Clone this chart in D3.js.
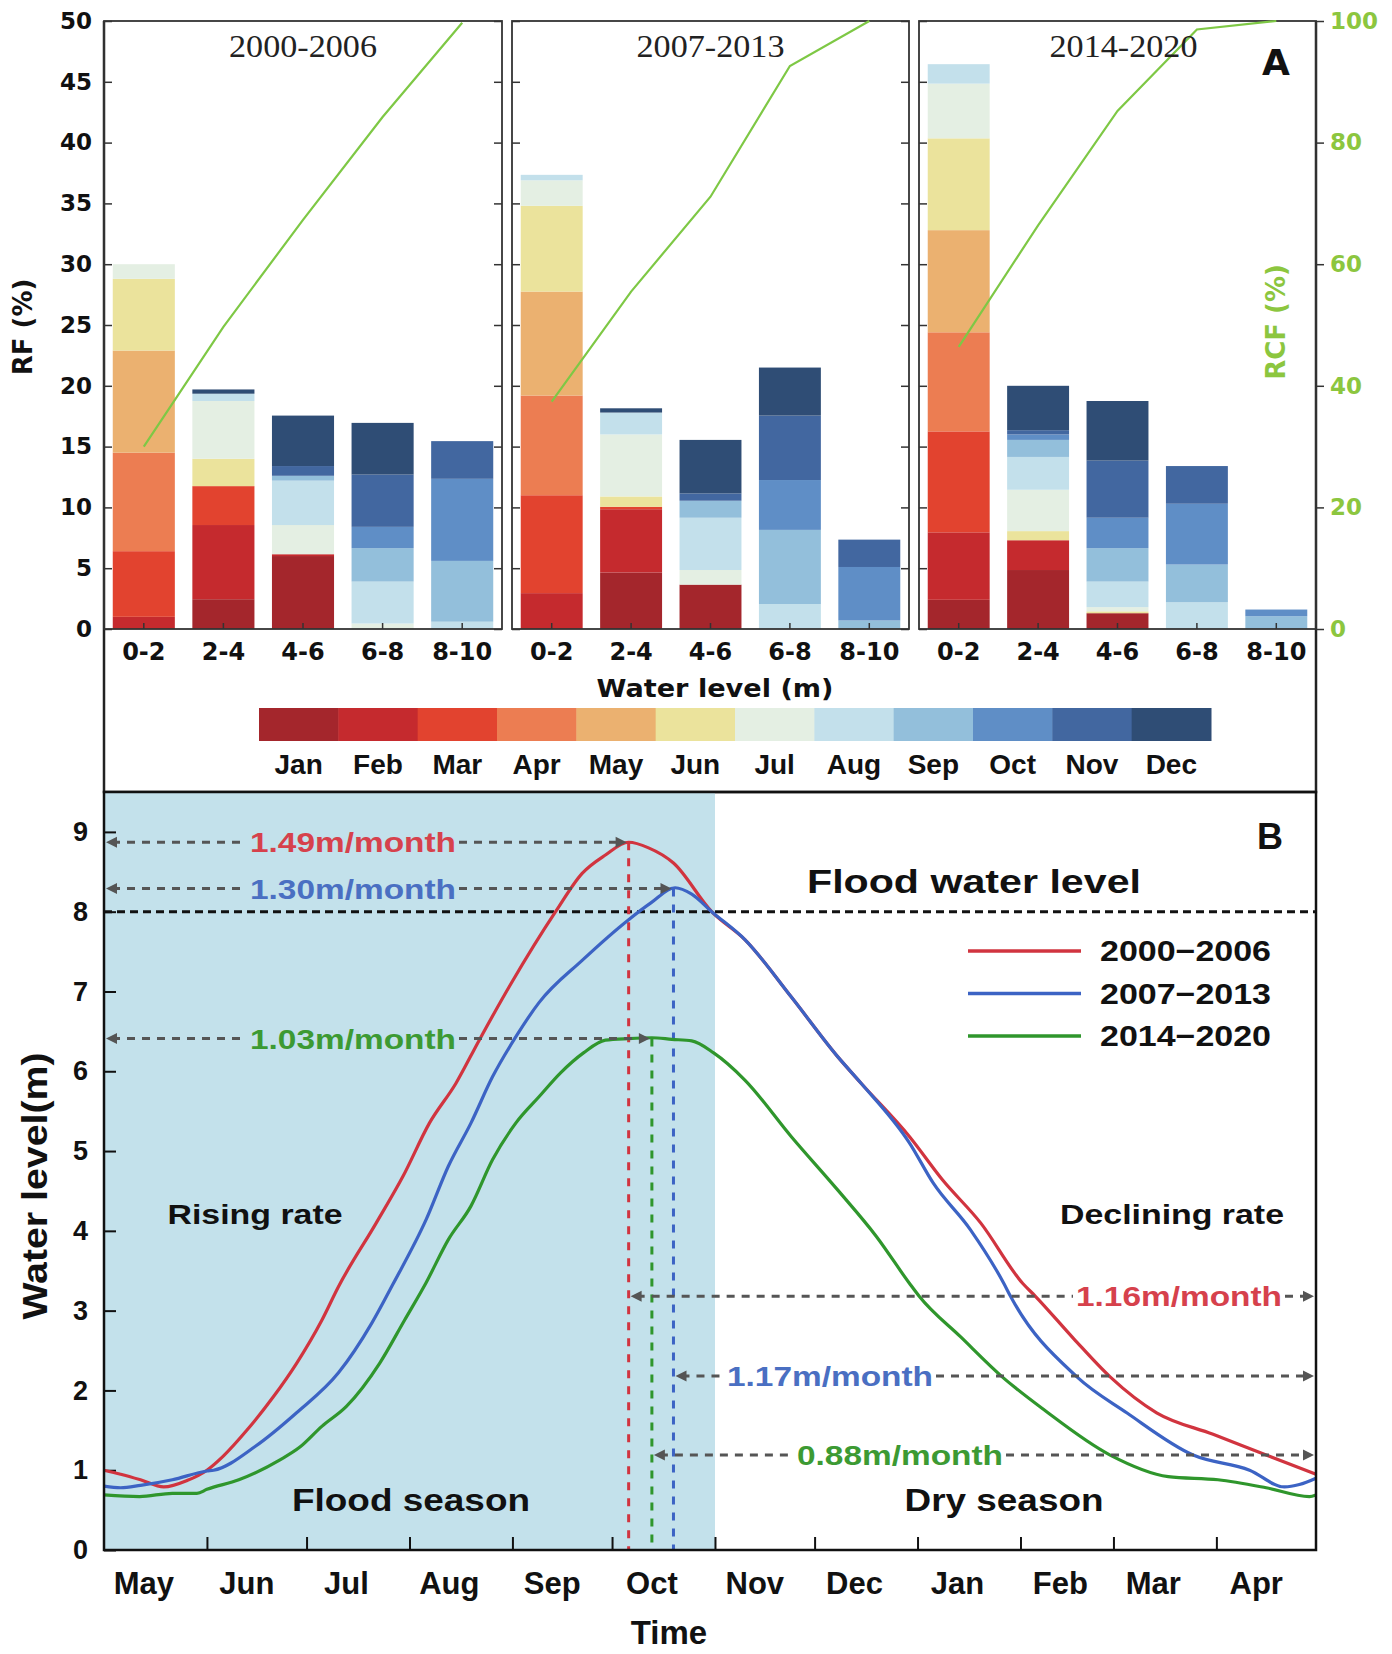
<!DOCTYPE html>
<html><head><meta charset="utf-8">
<script src="https://cdn.jsdelivr.net/npm/d3@7"></script>
<style>
body{margin:0;background:#fff;}
text{font-weight:bold;}
.dv{font-family:"DejaVu Sans",sans-serif;}
.ls{font-family:"Liberation Sans",Arial,sans-serif;}
.nar{font-family:"Liberation Sans Narrow","Liberation Sans",Arial,sans-serif;}
.serif{font-family:"Liberation Serif","Times New Roman",serif;font-weight:normal;}
</style>
</head><body>
<svg id="c" width="1392" height="1654" xmlns="http://www.w3.org/2000/svg"></svg>
<script>
// ---------------- DATA ----------------
const months = ["Jan","Feb","Mar","Apr","May","Jun","Jul","Aug","Sep","Oct","Nov","Dec"];
const monthColors = ["#a4262c","#c52a2e","#e2432f","#ec7d52","#ebb170","#ebe39c","#e4efe3","#c3e0eb","#93bfdb","#5f8ec6","#4267a0","#2f4d75"];
const bins = ["0-2","2-4","4-6","6-8","8-10"];
const periods = ["2000-2006","2007-2013","2014-2020"];
// RF (%) per water-level bin, stacked by month Jan..Dec
const rf2000 = [
  [0,1.0,5.4,8.1,8.4,5.9,1.2,0,0,0,0,0],
  [2.45,6.1,3.2,0,0,2.25,4.75,0.6,0,0,0,0.35],
  [6.0,0.15,0,0,0,0,2.4,3.65,0.4,0,0.8,4.15],
  [0,0,0,0,0,0,0.45,3.45,2.75,1.75,4.3,4.25],
  [0,0,0,0,0,0,0,0.6,5.0,6.75,3.1,0]
];
const rf2007 = [
  [0,2.95,8.05,8.2,8.55,7.05,2.1,0.45,0,0,0,0],
  [4.65,5.2,0.2,0,0,0.85,5.1,1.8,0,0,0,0.35],
  [3.65,0,0,0,0,0,1.2,4.3,1.4,0,0.6,4.4],
  [0,0,0,0,0,0,0,2.05,6.1,4.1,5.3,3.95],
  [0,0,0,0,0,0,0,0,0.7,4.4,2.25,0]
];
const rf2014 = [
  [2.4,5.55,8.3,8.15,8.4,7.55,4.5,1.6,0,0,0,0],
  [4.85,2.45,0,0,0,0.75,3.4,2.7,1.4,0.45,0.35,3.65],
  [1.3,0,0,0,0,0.15,0.35,2.1,2.75,2.5,4.7,4.9],
  [0,0,0,0,0,0,0,2.2,3.1,5.0,3.1,0],
  [0,0,0,0,0,0,0,0,1.05,0.55,0,0]
];
const rcf2000 = [30.0,49.7,67.3,84.2,99.7];
const rcf2007 = [37.4,55.5,71.1,92.6,100];
const rcf2014 = [46.4,66.4,85.2,98.6,100];
const rfTicks = [0,5,10,15,20,25,30,35,40,45,50];
const rcfTicks = [0,20,40,60,80,100];

// Panel B
const timeMonths = ["May","Jun","Jul","Aug","Sep","Oct","Nov","Dec","Jan","Feb","Mar","Apr"];
const monthDays = [31,30,31,31,30,31,30,31,31,28,31,30];
const levelTicks = [0,1,2,3,4,5,6,7,8,9];
const seriesNames = ["2000\u22122006","2007\u22122013","2014\u22122020"];
const seriesColors = ["#d1343f","#3c63c4","#2f962c"];
const rateColors = ["#d6414c","#4a6fc2","#3c9a33"];
// [day since May 1, water level (m)]
const wl2000 = [[0,1.00],[5,0.95],[11,0.88],[18,0.79],[25,0.87],[31,1.0],[36,1.18],[43,1.50],[51,1.92],[58,2.34],[65.6,2.88],[70.6,3.30],[82,4.10],[90,4.68],[98,5.35],[106,5.85],[113,6.39],[122.6,7.10],[136,8.0],[144,8.48],[151,8.71],[158,8.87],[164,8.80],[171.5,8.61],[183,8.0],[193,7.65],[207,6.93],[221,6.18],[228,5.85],[242.6,5.18],[252.5,4.64],[264,4.10],[276.7,3.34],[280.5,3.18],[292,2.65],[303,2.17],[317,1.72],[334,1.45],[350,1.19],[365,0.95]];
const wl2007 = [[0,0.80],[5,0.78],[11,0.81],[20.6,0.88],[31,0.99],[33,1.0],[45.6,1.30],[58,1.72],[70.6,2.22],[80.6,2.84],[87,3.33],[97,4.14],[103.7,4.81],[110.5,5.35],[117,5.93],[124,6.43],[131,6.86],[144,7.39],[158,7.90],[164.7,8.11],[172,8.30],[177,8.22],[183,8.0],[193,7.65],[207,6.93],[221,6.18],[228,5.85],[242.6,5.10],[249.7,4.60],[261,4.01],[271,3.34],[273,3.18],[293,2.17],[308,1.72],[328,1.19],[345,1.0],[355.5,0.79],[360,0.82],[365,0.90]];
const wl2014 = [[0,0.69],[10.7,0.67],[20.6,0.71],[28,0.71],[31,0.76],[40.6,0.88],[53,1.13],[59,1.29],[65.6,1.55],[73,1.80],[83,2.34],[90.5,2.88],[97,3.35],[103.7,3.89],[110.5,4.31],[117,4.89],[124,5.35],[131,5.68],[137.5,5.98],[144.4,6.23],[151,6.39],[158,6.41],[165,6.42],[171,6.40],[177,6.38],[183.6,6.23],[193,5.89],[207,5.18],[221,4.51],[232.6,3.93],[242.6,3.34],[245.5,3.18],[258,2.67],[270.5,2.17],[283,1.76],[303,1.19],[320.5,0.92],[335.5,0.88],[350,0.78],[363,0.67],[365,0.69]];
const peakDay = [158,171.5,165];
const peakLevel = [8.87,8.29,6.41];
const riseRates = ["1.49m/month","1.30m/month","1.03m/month"];
const declineRates = ["1.16m/month","1.17m/month","0.88m/month"];
const declineLevel = [3.18,2.18,1.19];
const floodLevel = 8;
const floodSeasonEndDay = 184;

// ---------------- DRAW ----------------
const svg = d3.select("#c");
svg.append("rect").attr("width",1392).attr("height",1654).attr("fill","#fff");

// ===== Panel A =====
const yA = d3.scaleLinear().domain([0,50]).range([629,21]);
const yR = d3.scaleLinear().domain([0,100]).range([629,21]);
const panelX = [[104,502],[512,909],[919,1316]];
const rfAll = [rf2000,rf2007,rf2014];
const rcfAll = [rcf2000,rcf2007,rcf2014];

svg.append("path").attr("d","M104,21 V792 H1316 V21").attr("fill","none").attr("stroke","#222").attr("stroke-width",2.5);

periods.forEach((p,i)=>{
  const [x0,x1] = panelX[i];
  const x = d3.scaleBand().domain(bins).range([x0,x1]).paddingInner(0.22).paddingOuter(0.11);
  const rows = bins.map((b,j)=>{const o={bin:b}; months.forEach((m,k)=>o[m]=rfAll[i][j][k]); return o;});
  const stacked = d3.stack().keys(months)(rows);
  const g = svg.append("g");
  stacked.forEach((layer,k)=>{
    g.selectAll(null).data(layer.filter(d=>d[1]-d[0]>0)).enter().append("rect")
      .attr("x",d=>x(d.data.bin)).attr("width",x.bandwidth())
      .attr("y",d=>yA(d[1])).attr("height",d=>yA(d[0])-yA(d[1]))
      .attr("fill",monthColors[k]);
  });
  const la = g.append("g").attr("transform",`translate(${x0},0)`)
    .call(d3.axisLeft(yA).tickValues(rfTicks).tickSize(-8).tickPadding(12).tickFormat(i===0?d3.format("d"):()=>""));
  la.select(".domain").remove();
  la.selectAll("line").attr("stroke","#333").attr("stroke-width",1.5);
  la.selectAll("text").attr("class","dv").attr("font-size",23).attr("fill","#111");
  if(i<2){
    const ra = g.append("g").attr("transform",`translate(${x1},0)`)
      .call(d3.axisRight(yA).tickValues(rfTicks).tickSize(-8).tickFormat(()=>""));
    ra.select(".domain").remove();
    ra.selectAll("line").attr("stroke","#333").attr("stroke-width",1.5);
  } else {
    const ra = g.append("g").attr("transform",`translate(${x1},0)`)
      .call(d3.axisRight(yR).tickValues(rcfTicks).tickSize(8).tickPadding(6).tickFormat(d3.format("d")));
    ra.select(".domain").remove();
    ra.selectAll("line").attr("stroke","#333").attr("stroke-width",1.5);
    ra.selectAll("text").attr("class","dv").attr("font-size",23).attr("fill","#8cc63f");
  }
  const ba = g.append("g").attr("transform",`translate(0,629)`)
    .call(d3.axisBottom(x).tickSize(-6).tickPadding(14));
  ba.select(".domain").remove();
  ba.selectAll("line").attr("stroke","#333").attr("stroke-width",1.5);
  ba.selectAll("text").attr("class","dv").attr("font-size",24).attr("fill","#111");
  g.append("rect").attr("x",x0).attr("y",21).attr("width",x1-x0).attr("height",608)
    .attr("fill","none").attr("stroke","#333").attr("stroke-width",1.8);
  const line = d3.line().x((v,j)=>x(bins[j])+x.bandwidth()/2).y(v=>yR(v));
  g.append("path").attr("d",line(rcfAll[i])).attr("fill","none").attr("stroke","#7ec845").attr("stroke-width",2.2);
  g.append("text").attr("class","serif").attr("x",(x0+x1)/2+(i===2?6:0)).attr("y",57).attr("text-anchor","middle")
    .attr("font-size",31).attr("fill","#222").attr("textLength",148).attr("lengthAdjust","spacingAndGlyphs").text(p);
});
svg.append("text").attr("class","dv").attr("x",1276).attr("y",75).attr("text-anchor","middle").attr("font-size",36).attr("fill","#111").text("A");
svg.append("text").attr("class","dv").attr("transform","translate(32,327) rotate(-90)").attr("text-anchor","middle")
  .attr("font-size",26).attr("fill","#111").text("RF (%)");
svg.append("text").attr("class","dv").attr("transform","translate(1285,322) rotate(-90)").attr("text-anchor","middle")
  .attr("font-size",26).attr("fill","#8cc63f").text("RCF (%)");
svg.append("text").attr("class","dv").attr("x",715).attr("y",697).attr("text-anchor","middle").attr("font-size",24)
  .attr("fill","#111").attr("textLength",237).attr("lengthAdjust","spacingAndGlyphs").text("Water level (m)");

const xLeg = d3.scaleBand().domain(months).range([259,1211]);
svg.append("g").selectAll("rect").data(months).enter().append("rect")
  .attr("x",d=>xLeg(d)).attr("y",708).attr("width",xLeg.bandwidth()+0.5).attr("height",33)
  .attr("fill",(d,k)=>monthColors[k]);
svg.append("g").selectAll("text").data(months).enter().append("text").attr("class","nar")
  .attr("x",d=>xLeg(d)+xLeg.bandwidth()/2).attr("y",774).attr("text-anchor","middle")
  .attr("font-size",28).attr("fill","#111").text(d=>d);

// ===== Panel B =====
const xB = d3.scaleLinear().domain([0,365]).range([104,1316]);
const yB = d3.scaleLinear().domain([0,9.5]).range([1550,792]);
const gB = svg.append("g");
gB.append("rect").attr("x",xB(0)).attr("y",792).attr("width",xB(floodSeasonEndDay)-xB(0)).attr("height",758).attr("fill","#c3e1eb");

const cum = Array.from(d3.cumsum(monthDays));
const monthStarts = [0].concat(cum.slice(0,11));
const xa = gB.append("g").attr("transform","translate(0,1550)")
  .call(d3.axisBottom(xB).tickValues(monthStarts.slice(1)).tickSize(-13).tickFormat(()=>""));
xa.select(".domain").remove();
xa.selectAll("line").attr("stroke","#111").attr("stroke-width",2);
gB.append("g").selectAll("text").data(timeMonths).enter().append("text").attr("class","ls")
  .attr("x",(d,k)=>xB(monthStarts[k]+12)).attr("y",1594).attr("text-anchor","middle")
  .attr("font-size",31).attr("fill","#111").text(d=>d);
const ya = gB.append("g").attr("transform","translate(104,0)")
  .call(d3.axisLeft(yB).tickValues(levelTicks).tickSize(-12).tickPadding(16).tickFormat(d3.format("d")));
ya.select(".domain").remove();
ya.selectAll("line").attr("stroke","#111").attr("stroke-width",2);
ya.selectAll("text").attr("class","ls").attr("font-size",27).attr("fill","#111");

gB.append("line").attr("x1",xB(0)).attr("x2",xB(365)).attr("y1",yB(floodLevel)).attr("y2",yB(floodLevel))
  .attr("stroke","#111").attr("stroke-width",3).attr("stroke-dasharray","8,5");

[0,1,2].forEach(s=>{
  gB.append("line").attr("x1",xB(peakDay[s])).attr("x2",xB(peakDay[s])).attr("y1",yB(peakLevel[s])).attr("y2",yB(0))
    .attr("stroke",seriesColors[s]).attr("stroke-width",3).attr("stroke-dasharray","8,8");
});

const lineB = d3.line().x(d=>xB(d[0])).y(d=>yB(d[1])).curve(d3.curveMonotoneX);
[wl2000,wl2007,wl2014].forEach((data,s)=>{
  gB.append("path").attr("d",lineB(data)).attr("fill","none").attr("stroke",seriesColors[s]).attr("stroke-width",3.2);
});

function arrowHead(x,y,dir){
  gB.append("path").attr("d",`M${x},${y} L${x-dir*11},${y-5.5} L${x-dir*11},${y+5.5} Z`).attr("fill","#555");
}
function rateArrow(xa1,xa2,y,label,color,cx){
  const t = gB.append("text").attr("class","ls").attr("x",cx).attr("y",y+10).attr("text-anchor","middle")
    .attr("font-size",28).attr("fill",color).attr("textLength",206).attr("lengthAdjust","spacingAndGlyphs").text(label);
  const w = 206;
  const l = cx - w/2 - 3, r = cx + w/2 + 3;
  [[xa1+8,l],[r,xa2-8]].forEach(([a,b])=>{ if(b>a) gB.append("line").attr("x1",a).attr("x2",b).attr("y1",y).attr("y2",y)
    .attr("stroke","#555").attr("stroke-width",3).attr("stroke-dasharray","8,7"); });
  arrowHead(xa1+2,y,-1);
  arrowHead(xa2-2,y,1);
  t.raise();
}
const riseCx = [353,353,353];
const declCx = [1179,830,900];
[0,1,2].forEach(s=>{
  rateArrow(xB(0), xB(peakDay[s]), yB(peakLevel[s]), riseRates[s], rateColors[s], riseCx[s]);
  rateArrow(xB(peakDay[s]), xB(365), yB(declineLevel[s]), declineRates[s], rateColors[s], declCx[s]);
});

gB.append("rect").attr("x",104).attr("y",792).attr("width",1212).attr("height",758).attr("fill","none").attr("stroke","#111").attr("stroke-width",2.5);

const ann = [["Flood water level",974,893,33,334],["Rising rate",255,1224,28,175],["Declining rate",1172,1224,28,224],
             ["Flood season",411,1511,31,238],["Dry season",1004,1511,31,199]];
ann.forEach(([t,x,y,fs,w])=>gB.append("text").attr("class","ls").attr("x",x).attr("y",y).attr("text-anchor","middle")
  .attr("font-size",fs).attr("fill","#111").attr("textLength",w).attr("lengthAdjust","spacingAndGlyphs").text(t));
gB.append("text").attr("class","ls").attr("x",1270).attr("y",849).attr("text-anchor","middle").attr("font-size",36).attr("fill","#111").text("B");

[0,1,2].forEach(s=>{
  const y = 951 + s*42.5;
  gB.append("line").attr("x1",968).attr("x2",1081).attr("y1",y).attr("y2",y).attr("stroke",seriesColors[s]).attr("stroke-width",3.5);
  gB.append("text").attr("class","ls").attr("x",1100).attr("y",y+10).attr("font-size",29).attr("fill","#111")
    .attr("textLength",171).attr("lengthAdjust","spacingAndGlyphs").text(seriesNames[s]);
});

gB.append("text").attr("class","ls").attr("transform","translate(47,1186) rotate(-90)").attr("text-anchor","middle")
  .attr("font-size",35).attr("fill","#111").attr("textLength",267).attr("lengthAdjust","spacingAndGlyphs").text("Water level(m)");
gB.append("text").attr("class","ls").attr("x",669).attr("y",1644).attr("text-anchor","middle")
  .attr("font-size",33).attr("fill","#111").text("Time");
</script>
</body></html>
